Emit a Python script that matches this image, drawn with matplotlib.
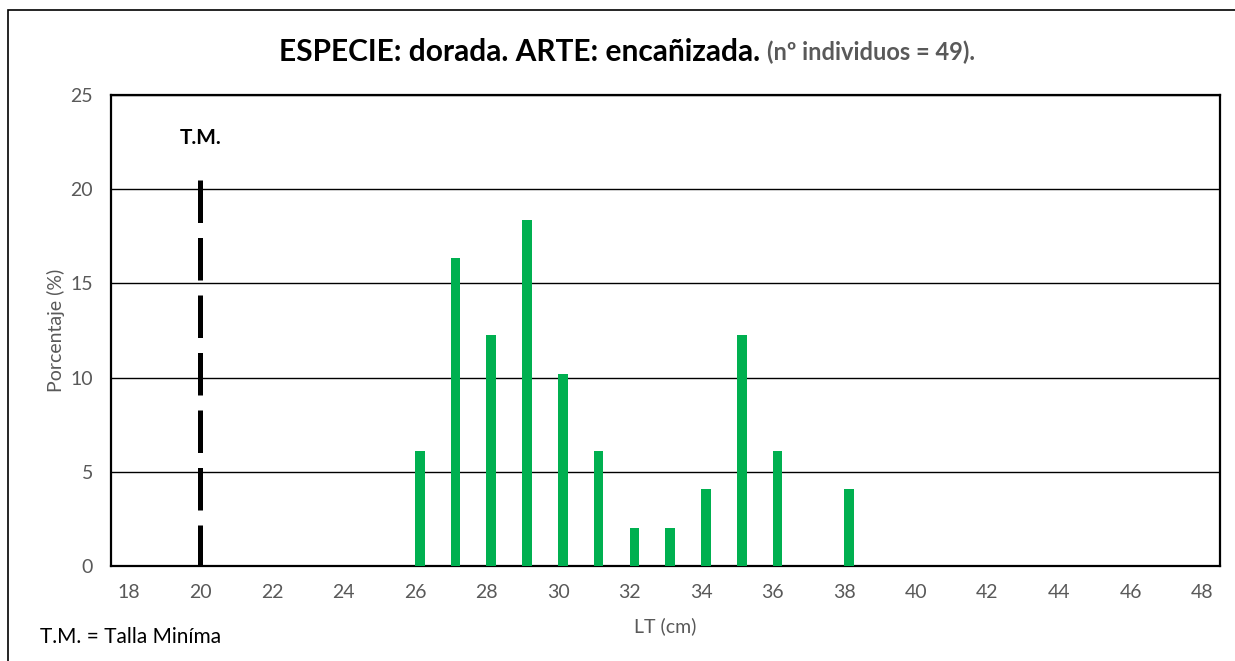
import matplotlib
matplotlib.use('Agg')
import matplotlib.pyplot as plt
import numpy as np

plt.rcParams['font.family'] = ['Lato', 'DejaVu Sans']

# Datos: talla (cm) y porcentaje de individuos
tallas = np.arange(18, 49)
individuos = {26: 3, 27: 8, 28: 6, 29: 9, 30: 5, 31: 3, 32: 1, 33: 1,
              34: 2, 35: 6, 36: 3, 38: 2}
n_total = 49
porcentaje = np.array([individuos.get(t, 0) / n_total * 100 for t in tallas])
talla_minima = 20
tm_top = 20.5
xticks = np.arange(18, 49, 2)
yticks = [0, 5, 10, 15, 20, 25]

gris = '#595959'
verde = '#00B050'

fig = plt.figure(figsize=(12.35, 6.61), dpi=100)
ax = fig.add_axes([0.0899, 0.1437, 0.8980, 0.7126])

# barras algo desplazadas, como en el gráfico de Excel
ax.bar(tallas + 0.13, porcentaje, width=0.27, color=verde, zorder=3)
ax.plot([talla_minima, talla_minima], [tm_top, 0], color='black', lw=3.6,
        dashes=(8.5, 3.0), zorder=4, solid_capstyle='butt', dash_capstyle='butt')
ax.text(talla_minima, 22.7, 'T.M.', ha='center', va='center', fontsize=15,
        fontweight='bold', color='black')

ax.set_xlim(17.5, 48.5)
ax.set_ylim(0, 25)
ax.set_xticks(xticks)
ax.set_yticks(yticks)
ax.tick_params(axis='both', length=0, labelsize=14, labelcolor=gris)
ax.tick_params(axis='x', pad=13)
ax.tick_params(axis='y', pad=13)
ax.yaxis.grid(True, color='black', lw=1.0, zorder=1)
ax.set_axisbelow(True)
for s in ax.spines.values():
    s.set_linewidth(1.6)
    s.set_color('black')

ax.set_xlabel('LT (cm)', fontsize=14, color=gris, labelpad=12)
ax.set_ylabel('Porcentaje (%)', fontsize=14, color=gris, labelpad=4)

# Título en dos partes
t1 = fig.text(0.5, 0.921, 'ESPECIE: dorada. ARTE: encañizada. ', ha='left', va='center',
              fontsize=21.5, fontweight='bold', color='black')
t2 = fig.text(0.5, 0.921, '(nº individuos = 49).', ha='left', va='center',
              fontsize=17, fontweight='bold', color=gris)
fig.canvas.draw()
r = fig.canvas.get_renderer()
w1 = t1.get_window_extent(r).width
w2 = t2.get_window_extent(r).width
W = fig.bbox.width
x0 = (627 - (w1 + w2) / 2) / W
t1.set_x(x0)
t2.set_x(x0 + w1 / W)

fig.text(40 / 1235, 1 - 637 / 661, 'T.M. = Talla Miníma', ha='left', va='center',
         fontsize=15, color='black')

# Marco exterior
fig.patches.append(plt.Rectangle((8 / 1235, -0.05), 1.2, 1 - 10 / 661 + 0.05,
                                 transform=fig.transFigure, fill=False,
                                 edgecolor='black', lw=1.2))

plt.savefig('out.png', dpi=100, facecolor='white')
plt.close()
